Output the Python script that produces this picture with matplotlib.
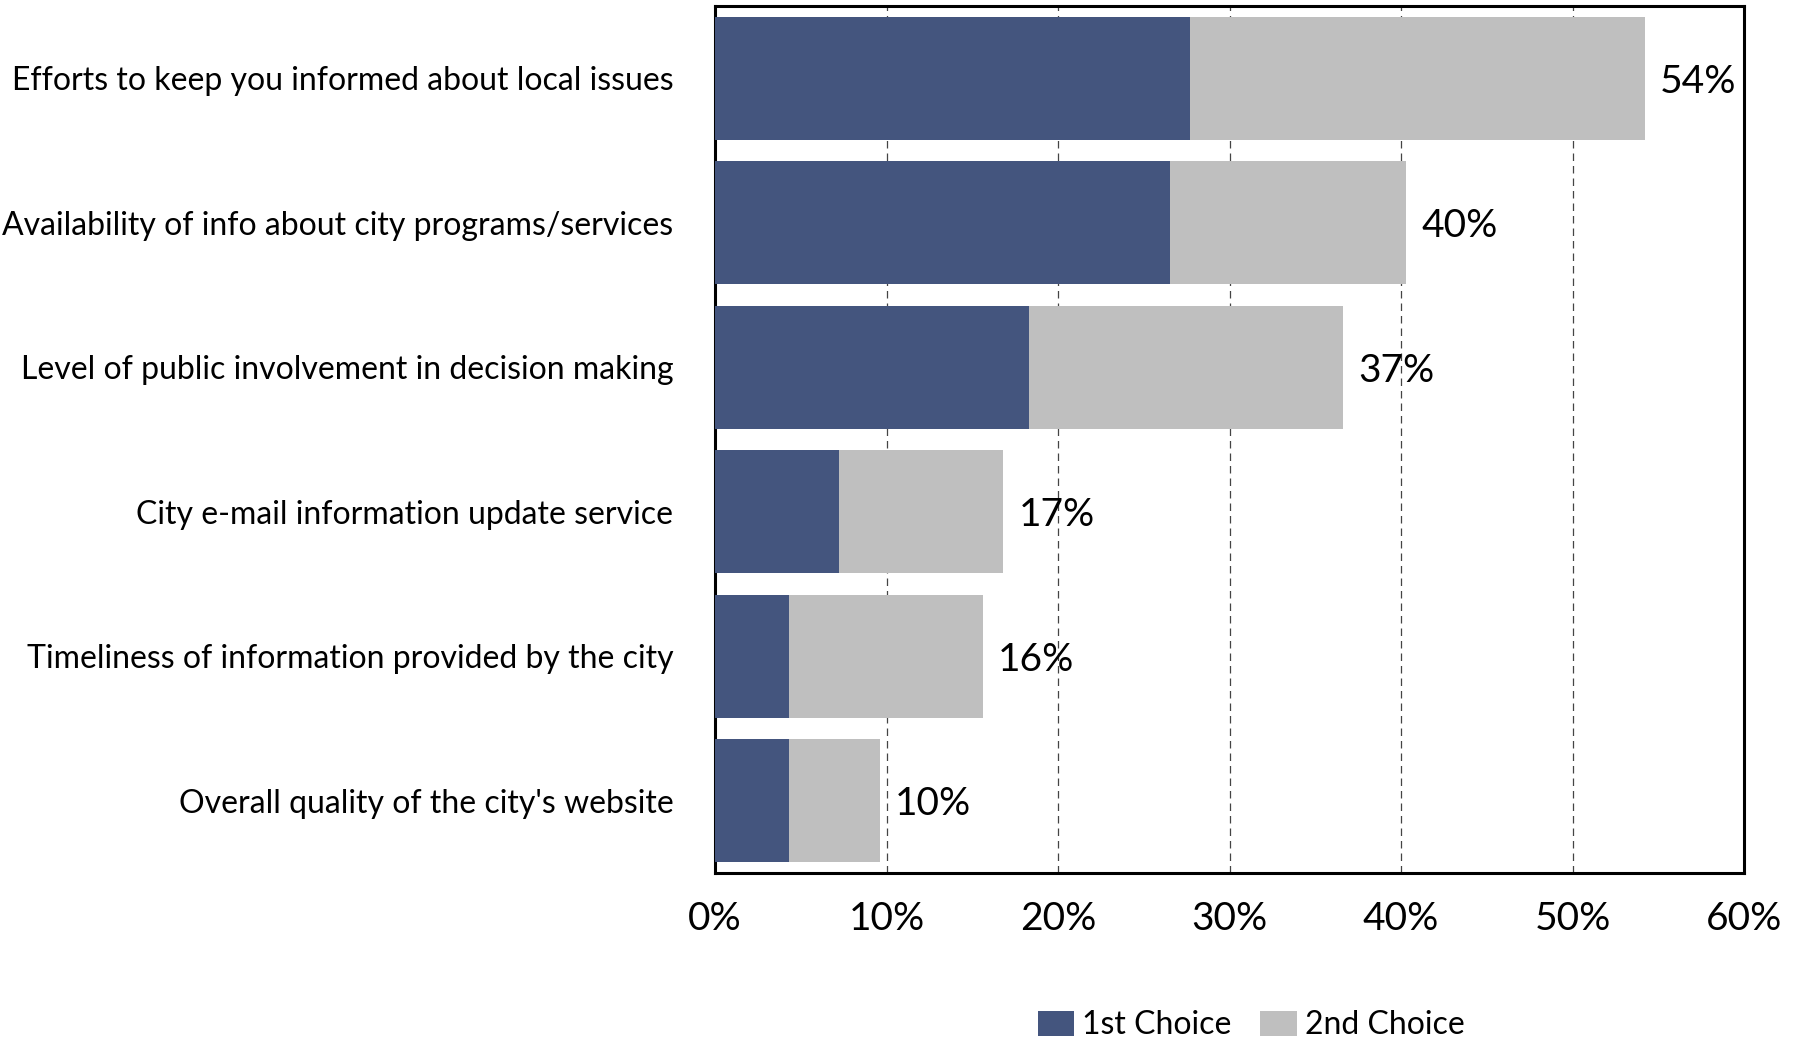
import matplotlib
matplotlib.use('Agg')
import matplotlib.pyplot as plt
import matplotlib.ticker as ticker
import numpy as np

# ── Data ──────────────────────────────────────────────────────────
categories = [
    'Efforts to keep you informed about local issues',
    'Availability of info about city programs/services',
    'Level of public involvement in decision making',
    'City e-mail information update service',
    'Timeliness of information provided by the city',
    "Overall quality of the city's website",
]
first_choice = [27.7, 26.5, 18.3, 7.2, 4.3, 4.3]
second_choice = [26.5, 13.8, 18.3, 9.6, 11.3, 5.3]
total_labels = ['54%', '40%', '37%', '17%', '16%', '10%']
series_names = ['1st Choice', '2nd Choice']

# ── Style ─────────────────────────────────────────────────────────
dark = '#44557e'
grey = '#bfbfbf'
plt.rcParams['font.family'] = ['Lato', 'DejaVu Sans']

fig = plt.figure(figsize=(18.03, 10.39), dpi=100)
ax = fig.add_axes([0.3966, 0.1598, 0.5707, 0.8344])

y = np.arange(len(categories))
bar_h = 0.85
ax.barh(y, first_choice, height=bar_h, color=dark, edgecolor='none',
        zorder=3, label=series_names[0])
totals = np.array(first_choice) + np.array(second_choice)
ax.barh(y, second_choice, left=first_choice, height=bar_h, color=grey,
        edgecolor='none', zorder=3, label=series_names[1])

for i, (t, lab) in enumerate(zip(totals, total_labels)):
    ax.annotate(lab, (t, i), xytext=(11, -2.5), textcoords='offset points',
                ha='left', va='center', fontsize=28, color='black', zorder=4)

ax.set_xlim(0, 60)
ax.set_ylim(len(categories) - 0.5, -0.5)
ax.xaxis.set_major_locator(ticker.MultipleLocator(10))
ax.xaxis.set_major_formatter(ticker.FuncFormatter(lambda v, _: f'{v:.0f}%'))
ax.set_yticks(y)
ax.set_yticklabels(categories, fontsize=23)
ax.tick_params(axis='x', length=0, pad=20, labelsize=28)
ax.tick_params(axis='y', length=0, pad=30)

ax.grid(axis='x', color='#444444', linestyle=(0, (6, 4)), linewidth=0.9, zorder=0)
for s in ax.spines.values():
    s.set_linewidth(2.2)
    s.set_color('black')

fig.legend(loc='center', bbox_to_anchor=(0.694, 0.013), ncol=2, frameon=False,
           fontsize=23, handlelength=1.15, handleheight=0.85, handletextpad=0.25,
           columnspacing=0.9, borderaxespad=0)

fig.savefig('out.png', dpi=100)
